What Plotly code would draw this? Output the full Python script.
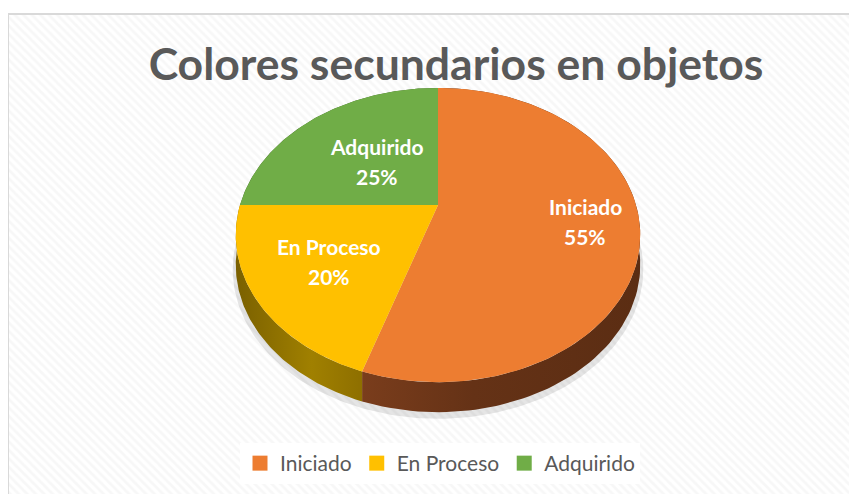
import numpy as np
import plotly.graph_objects as go

# ---- data ----
categories = ["Iniciado", "En Proceso", "Adquirido"]
values = [55, 20, 25]
pct_labels = ["55%", "20%", "25%"]
title_text = "Colores secundarios en objetos"

# ---- style ----
top_colors = ["#ED7D31", "#FFC000", "#70AD47"]
side_scales = [
    [[0, "#7a3d1c"], [0.4, "#653216"], [1, "#5b2d13"]],
    [[0, "#7a6000"], [0.6, "#a08000"], [1, "#8e6f00"]],
    [[0, "#3d6026"], [1, "#3d6026"]],
]
label_r = [0.73, 0.6, 0.5]
W, H = 857, 494
OFF = 8                     # page body margin
FW, FH = W - OFF, H - OFF
cx, cy = 438, 205           # apex of pie (page pixels)
A, B, P = 198, 141, -0.204  # half-width, half-height, perspective
D = 30                      # depth of 3D side


def px(xp):
    return (xp - OFF) / FW


def py(yp):
    return 1 - (yp - OFF) / FH


def proj(theta, r=1.0):
    u = np.sin(theta) * r
    w = -np.cos(theta) * r
    den = 1 + P * (-np.cos(theta))
    return cx + A * u / den, cy + B * w / den


total = sum(values)
bounds = np.concatenate([[0], np.cumsum(values)]) / total * 2 * np.pi

fig = go.Figure()

# background pattern panel
fig.add_trace(go.Scatter(
    x=[8, W + 5, W + 5, 8, 8], y=[14, 14, H + 5, H + 5, 14],
    fill="toself", mode="lines", line=dict(width=0),
    fillcolor="white",
    fillpattern=dict(shape="\\", fgcolor="#efefef", bgcolor="white",
                     size=6, solidity=0.45),
    hoverinfo="skip", showlegend=False))

# soft shadow
t = np.linspace(0, 2 * np.pi, 300)
sx, sy = proj(t, 1.015)
fig.add_trace(go.Scatter(
    x=sx, y=sy + D + 4, fill="toself", mode="lines", line=dict(width=0),
    fillcolor="rgba(0,0,0,0.10)", hoverinfo="skip", showlegend=False))

# sides
for i in range(len(values)):
    t = np.linspace(bounds[i], bounds[i + 1], 120)
    x, y = proj(t)
    xs = np.concatenate([x, x[::-1], x[:1]])
    ys = np.concatenate([y, y[::-1] + D, y[:1]])
    fig.add_trace(go.Scatter(
        x=xs, y=ys, fill="toself", mode="lines", line=dict(width=0),
        fillgradient=dict(type="horizontal", colorscale=side_scales[i]),
        hoverinfo="skip", showlegend=False))

# top faces
for i in range(len(values)):
    t = np.linspace(bounds[i], bounds[i + 1], 120)
    x, y = proj(t)
    xs = np.concatenate([[cx], x, [cx]])
    ys = np.concatenate([[cy], y, [cy]])
    fig.add_trace(go.Scatter(
        x=xs, y=ys, fill="toself", mode="lines", line=dict(width=0),
        fillcolor=top_colors[i], name=categories[i], showlegend=False,
        hovertemplate=f"{categories[i]}: {pct_labels[i]}<extra></extra>"))

# legend entries (square keys)
for i in range(len(values)):
    fig.add_trace(go.Scatter(
        x=[None], y=[None], mode="markers", name=categories[i],
        marker=dict(symbol="square", size=15, color=top_colors[i])))

# data labels
for i in range(len(values)):
    mid = (bounds[i] + bounds[i + 1]) / 2
    lx, ly = proj(mid, label_r[i])
    for txt, dy in ((categories[i], -15), (pct_labels[i], 15)):
        fig.add_annotation(x=lx, y=ly + dy, text=f"<b>{txt}</b>",
                           showarrow=False, xref="x", yref="y",
                           font=dict(family="Lato", size=21, color="white"))

fig.update_layout(
    width=FW, height=FH,
    margin=dict(l=0, r=0, t=0, b=0),
    paper_bgcolor="white", plot_bgcolor="white",
    xaxis=dict(range=[OFF, W], visible=False, fixedrange=True),
    yaxis=dict(range=[H, OFF], visible=False, fixedrange=True),
    title=dict(text=f"<b>{title_text}</b>", x=px(456), xanchor="center",
               y=py(64), yanchor="middle",
               font=dict(family="Lato", size=44.5, color="#595959")),
    legend=dict(orientation="h", x=px(440), xanchor="center",
                y=py(443), yanchor="top", bgcolor="white",
                font=dict(family="Lato", size=21, color="#595959"),
                itemwidth=30, traceorder="normal"),
    shapes=[dict(type="rect", xref="x", yref="y", x0=8, y0=14, x1=W + 5,
                 y1=H + 5, line=dict(color="#d9d9d9", width=2),
                 fillcolor="rgba(0,0,0,0)", layer="above")],
)

fig.write_html("out.html")
